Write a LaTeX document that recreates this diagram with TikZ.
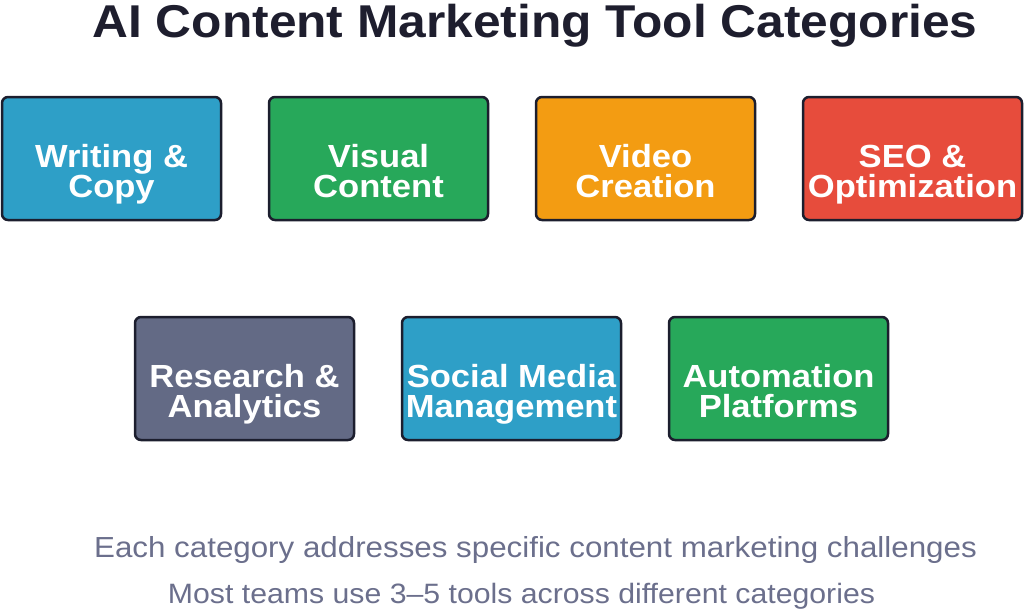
\documentclass[tikz,border=0pt]{standalone}
\usepackage{fontspec}
\setmainfont{Liberation Sans}
\newfontfamily\widefont[FakeStretch=1.08]{Liberation Sans}
\definecolor{cblue}{HTML}{2E9FC7}
\definecolor{cgreen}{HTML}{27A85A}
\definecolor{corange}{HTML}{F39C12}
\definecolor{cred}{HTML}{E74C3C}
\definecolor{cslate}{HTML}{636A85}
\definecolor{cborder}{HTML}{1C1E2E}
\definecolor{ctitle}{HTML}{1E1E2E}
\definecolor{cfoot}{HTML}{6B6F8C}
\tikzset{
  catbox/.style={draw=cborder, line width=2.5pt, rounded corners=6pt,
    minimum width=219pt, minimum height=123pt, inner sep=0pt},
  boxtext/.style={text=white, align=center, inner sep=0pt, anchor=base,
    font=\widefont\fontsize{32}{30}\selectfont\bfseries},
  foot/.style={text=cfoot, font=\widefont\fontsize{29}{30}\selectfont, inner sep=0pt, anchor=base}
}
\begin{document}
\begin{tikzpicture}[x=1pt,y=1pt]
\useasboundingbox (0,0) rectangle (1024,-611);
\node[anchor=base, text=ctitle, inner sep=0pt, font=\widefont\fontsize{46}{50}\selectfont\bfseries] (title) at (535,-37) {AI Content Marketing Tool Categories};
\node[catbox, fill=cblue] (b1) at (111.5,-158.5) {};
\node[catbox, fill=cgreen] (b2) at (378.5,-158.5) {};
\node[catbox, fill=corange] (b3) at (645.5,-158.5) {};
\node[catbox, fill=cred] (b4) at (912.5,-158.5) {};
\node[catbox, fill=cslate] (b5) at (244.5,-378.5) {};
\node[catbox, fill=cblue] (b6) at (511.5,-378.5) {};
\node[catbox, fill=cgreen] (b7) at (778.5,-378.5) {};
\node[boxtext] (t1) at ([yshift=-38.5pt]b1.center) {Writing \&\\Copy};
\node[boxtext] (t2) at ([yshift=-38.5pt]b2.center) {Visual\\Content};
\node[boxtext] (t3) at ([yshift=-38.5pt]b3.center) {Video\\Creation};
\node[boxtext] (t4) at ([yshift=-38.5pt]b4.center) {SEO \&\\Optimization};
\node[boxtext] (t5) at ([yshift=-38.5pt]b5.center) {Research \&\\Analytics};
\node[boxtext] (t6) at ([yshift=-38.5pt]b6.center) {Social Media\\Management};
\node[boxtext] (t7) at ([yshift=-38.5pt]b7.center) {Automation\\Platforms};
\node[foot] (f1) at (535.5,-557) {Each category addresses specific content marketing challenges};
\node[foot, font=\widefont\fontsize{28}{30}\selectfont] (f2) at (521.5,-603) {Most teams use 3–5 tools across different categories};
\end{tikzpicture}
\end{document}
